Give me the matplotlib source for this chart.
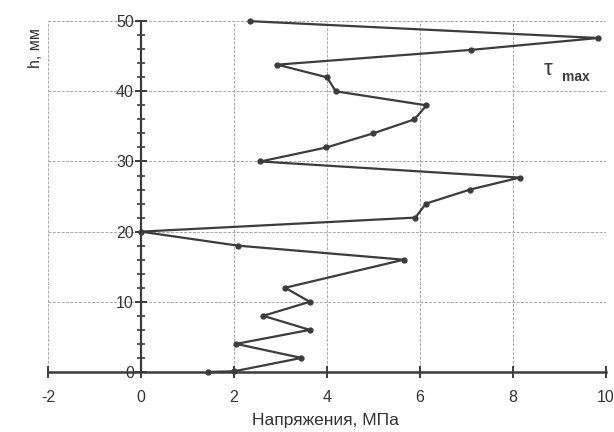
import matplotlib
matplotlib.use("Agg")
import matplotlib.pyplot as plt
from matplotlib.ticker import MultipleLocator

plt.rcParams['font.family'] = ['Liberation Sans', 'DejaVu Sans']
plt.rcParams['axes.unicode_minus'] = False

# stress profile through the thickness
h_mm = [50, 47.6, 45.9, 43.8, 42, 40, 38, 36, 34, 32, 30, 27.7, 26, 24, 22,
        20, 18, 16, 12, 10, 8, 6, 4, 2, 0.1, 0]
tau = [2.35, 9.83, 7.09, 2.93, 4.0, 4.19, 6.14, 5.88, 4.99, 3.99, 2.57, 8.14,
       7.08, 6.13, 5.9, 0.0, 2.09, 5.65, 3.1, 3.63, 2.63, 3.63, 2.05, 3.45,
       2.01, 1.44]

x_ticks = [-2, 0, 2, 4, 6, 8, 10]
y_ticks = [0, 10, 20, 30, 40, 50]

ink = '#3c3c3c'

fig = plt.figure(figsize=(6.14, 4.32), dpi=100)
ax = fig.add_axes([0.078, 0.139, 0.909, 0.812])

ax.set_xlim(-2, 10)
ax.set_ylim(0, 50)
ax.set_xticks(x_ticks)
ax.set_yticks(y_ticks)
ax.yaxis.set_minor_locator(MultipleLocator(2))

ax.grid(True, which='major', color='#a8a8a8', lw=0.7, ls=(0, (3, 1.5)))
ax.set_axisbelow(True)

for side in ['top', 'right']:
    ax.spines[side].set_visible(False)
ax.spines['left'].set_position(('data', 0))
ax.spines['bottom'].set_position(('data', 0))
ax.spines['left'].set_color(ink)
ax.spines['bottom'].set_color(ink)
ax.spines['left'].set_linewidth(1.6)
ax.spines['bottom'].set_linewidth(1.8)

ax.tick_params(axis='both', which='major', direction='inout', length=8,
               width=1.4, color=ink, labelsize=11.5, labelcolor='#333333')
ax.tick_params(axis='y', which='minor', direction='inout', length=6,
               width=1.2, color=ink)
ax.tick_params(axis='x', pad=9)
ax.tick_params(axis='y', pad=1)

ax.plot(tau, h_mm, color=ink, lw=1.6, marker='o', ms=3.5, clip_on=False,
        zorder=3)

ax.text(8.65, 41.6, 'τ', fontsize=16, color=ink, ha='left', va='bottom')
ax.text(9.05, 41.0, 'max', fontsize=10, fontweight='bold', color=ink,
        ha='left', va='bottom')

fig.text(0.53, 0.01, 'Напряжения, МПа', ha='center', va='bottom',
         fontsize=12.5, color='#333333')
fig.text(0.058, 0.89, 'h, мм', ha='center', va='center', rotation=90,
         fontsize=11.5, color='#333333')

fig.savefig('out.png', dpi=100)
